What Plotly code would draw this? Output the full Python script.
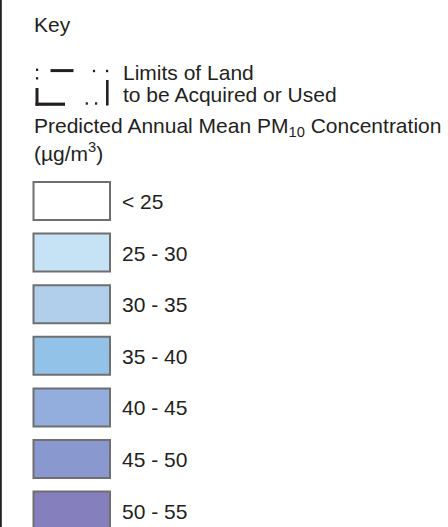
#!/usr/bin/env python3
"""
Map key: limits of land symbol plus the PM10 concentration colour bands.
"""

import plotly.graph_objects as go

# data
band_labels = ["< 25", "25 - 30", "30 - 35", "35 - 40", "40 - 45", "45 - 50", "50 - 55"]
band_colors = ["#ffffff", "#c6e3f5", "#b1cfeb", "#92c2e8", "#93addc", "#8a98d0", "#8580bd"]

title_text = "Key"
limits_lines = ["Limits of Land", "to be Acquired or Used"]
pollutant_lines = ["Predicted Annual Mean PM<sub>10</sub> Concentration",
                   "(µg/m<sup>3</sup>)"]

# layout constants
W, H = 448, 527
FONT = dict(family="Liberation Sans, Arial, sans-serif", size=21, color="#231f20")
TEXT_X = 33
BOX_X0, BOX_X1 = 33.5, 110
BOX_TOP, BOX_H, BOX_STEP = 182, 38, 51.6
LABEL_X = 121
INK = "#231f20"

fig = go.Figure()
shapes = []
annotations = []

# left frame line
shapes.append(dict(type="line", xref="x", yref="y", x0=0.8, x1=0.8, y0=0, y1=H,
                   line=dict(color="#222222", width=2)))


def note(x, y, text):
    annotations.append(dict(x=x, y=y, xref="x", yref="y", text=text, showarrow=False,
                            xanchor="left", yanchor="middle", font=FONT, borderpad=0))


note(TEXT_X, 24, title_text)
note(121.5, 72.5, limits_lines[0])
note(121.5, 94, limits_lines[1])
note(TEXT_X, 127, pollutant_lines[0])
note(TEXT_X, 152, pollutant_lines[1])

# limits of land glyph (dash-dot boundary)
glyph = [
    # top row
    ((36.0, 69.8), (38.2, 69.8), 2.4),
    ((36.0, 78.3), (38.2, 78.3), 2.4),
    ((50.5, 70.6), (73.5, 70.6), 3),
    ((92.9, 71), (95.1, 71), 2.4),
    ((106.0, 71), (108.2, 71), 2.4),
    # bottom row
    ((37, 88), (37, 105.5), 3),
    ((35.5, 104.2), (65, 104.2), 3.2),
    ((85.7, 103.5), (87.9, 103.5), 2.4),
    ((95.0, 103.5), (97.2, 103.5), 2.4),
    ((107.3, 80), (107.3, 105.5), 2.6),
]
for (x0, y0), (x1, y1), w in glyph:
    shapes.append(dict(type="line", xref="x", yref="y", x0=x0, y0=y0, x1=x1, y1=y1,
                       line=dict(color=INK, width=w)))

# colour band boxes
for i, (lab, col) in enumerate(zip(band_labels, band_colors)):
    y0 = BOX_TOP + i * BOX_STEP
    shapes.append(dict(type="rect", xref="x", yref="y", x0=BOX_X0, x1=BOX_X1,
                       y0=y0, y1=y0 + BOX_H, fillcolor=col,
                       line=dict(color="#6f6f6f", width=2)))
    note(LABEL_X, y0 + BOX_H / 2 + 0.5, lab)

fig.update_layout(
    width=W, height=H,
    margin=dict(l=0, r=0, t=0, b=0),
    paper_bgcolor="#ffffff", plot_bgcolor="#ffffff",
    shapes=shapes, annotations=annotations,
    showlegend=False,
)
fig.update_xaxes(range=[0, W], visible=False, fixedrange=True)
fig.update_yaxes(range=[H, 0], visible=False, fixedrange=True)

# browser default body margin would push the key 8px off; no scrollbars either
fig.write_html(
    "out.html",
    config={"displayModeBar": False, "staticPlot": True},
    post_script=(
        "document.body.style.margin = '0px';"
        "document.body.style.overflow = 'hidden';"
        "document.documentElement.style.overflow = 'hidden';"
    ),
)
